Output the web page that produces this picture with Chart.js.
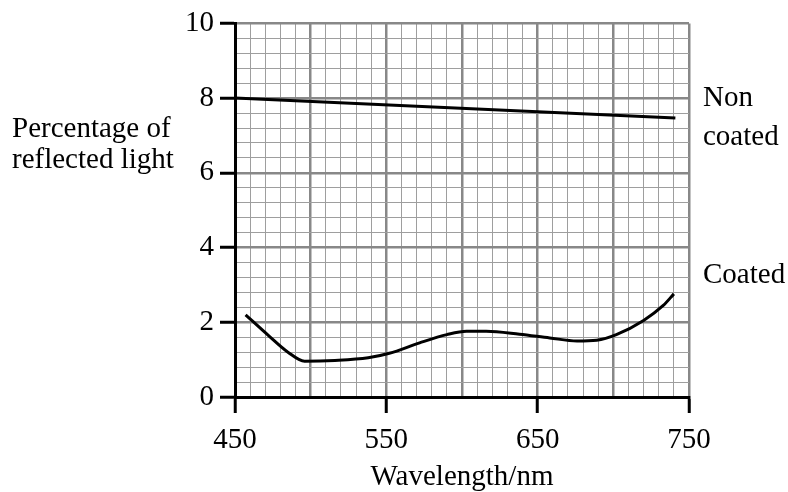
<!DOCTYPE html>
<html>
<head>
<meta charset="utf-8">
<script src="https://cdn.jsdelivr.net/npm/chart.js@4/dist/chart.umd.min.js"></script>
<style>html,body{margin:0;padding:0;background:#fff}</style>
</head>
<body>
<canvas id="chart" width="788" height="492"></canvas>
<script>
const nonCoatedX = [450, 741];
const nonCoatedY = [8.0, 7.47];
const coatedX = [457, 472, 485, 496, 516, 538, 552, 572, 590, 603, 616, 638, 658, 676, 689, 702, 720, 733, 740];
const coatedY = [2.20, 1.65, 1.20, 0.96, 0.98, 1.05, 1.17, 1.45, 1.67, 1.76, 1.76, 1.68, 1.58, 1.50, 1.52, 1.67, 2.05, 2.45, 2.76];
const xLabels = [450, 550, 650, 750];
const yLabels = [0, 2, 4, 6, 8, 10];
const yTitle = ['Percentage of', 'reflected light'];
const xTitle = 'Wavelength/nm';
const nonCoatedName = ['Non', 'coated'];
const coatedName = ['Coated'];

const FONT = 'Liberation Serif';
const SIZE = 29;
const toPts = (xs, ys) => xs.map((x, i) => ({x: x, y: ys[i]}));
const near = (v, step) => Math.abs(v / step - Math.round(v / step)) < 1e-6;

// horizontal axis label and curve names
const textPlugin = {
    id: 'texts',
    afterDraw(chart) {
        const c = chart.ctx;
        c.save();
        c.fillStyle = '#000';
        c.font = SIZE + 'px "' + FONT + '"';
        c.textAlign = 'left';
        c.textBaseline = 'alphabetic';
        c.fillText(yTitle[0], 12, 137);
        c.fillText(yTitle[1], 12, 168);
        c.fillText(nonCoatedName[0], 703, 106);
        c.fillText(nonCoatedName[1], 703, 145);
        c.fillText(coatedName[0], 703, 283);
        c.restore();
    }
};

new Chart(document.getElementById('chart'), {
    type: 'line',
    data: {
        datasets: [{
            data: toPts(nonCoatedX, nonCoatedY),
            borderColor: '#000',
            borderWidth: 3,
            pointRadius: 0,
            tension: 0
        }, {
            data: toPts(coatedX, coatedY),
            borderColor: '#000',
            borderWidth: 3,
            pointRadius: 0,
            cubicInterpolationMode: 'monotone'
        }]
    },
    options: {
        responsive: false,
        animation: false,
        devicePixelRatio: 1,
        layout: { padding: { top: 21, right: 99, left: 0, bottom: 0 } },
        plugins: { legend: { display: false }, tooltip: { enabled: false } },
        scales: {
            x: {
                type: 'linear',
                min: 450,
                max: 750,
                afterFit: s => { s.height = 95; },
                ticks: {
                    stepSize: 10,
                    autoSkip: false,
                    maxRotation: 0,
                    padding: 10,
                    color: '#000',
                    font: { family: FONT, size: SIZE },
                    callback: v => xLabels.includes(v) ? String(v) : ''
                },
                grid: {
                    color: c => near(c.tick.value, 50) ? '#888' : '#9e9e9e',
                    lineWidth: c => near(c.tick.value, 50) ? 2.5 : 1,
                    tickColor: c => xLabels.includes(c.tick.value) ? '#000' : 'rgba(0,0,0,0)',
                    tickWidth: 3,
                    tickLength: 16
                },
                border: { color: '#000', width: 3 },
                title: {
                    display: true,
                    text: xTitle,
                    color: '#000',
                    font: { family: FONT, size: SIZE },
                    padding: { top: 0, bottom: -3 }
                }
            },
            y: {
                min: 0,
                max: 10,
                afterFit: s => { s.width = 235; },
                ticks: {
                    stepSize: 0.4,
                    autoSkip: false,
                    padding: 6,
                    color: '#000',
                    font: { family: FONT, size: SIZE },
                    callback: v => yLabels.includes(v) ? String(v) : ''
                },
                grid: {
                    color: c => near(c.tick.value, 2) ? '#888' : '#9e9e9e',
                    lineWidth: c => near(c.tick.value, 2) ? 2.5 : 1,
                    tickColor: c => yLabels.includes(c.tick.value) ? '#000' : 'rgba(0,0,0,0)',
                    tickWidth: 3,
                    tickLength: 15
                },
                border: { color: '#000', width: 3 }
            }
        }
    },
    plugins: [textPlugin]
});
</script>
</body>
</html>
